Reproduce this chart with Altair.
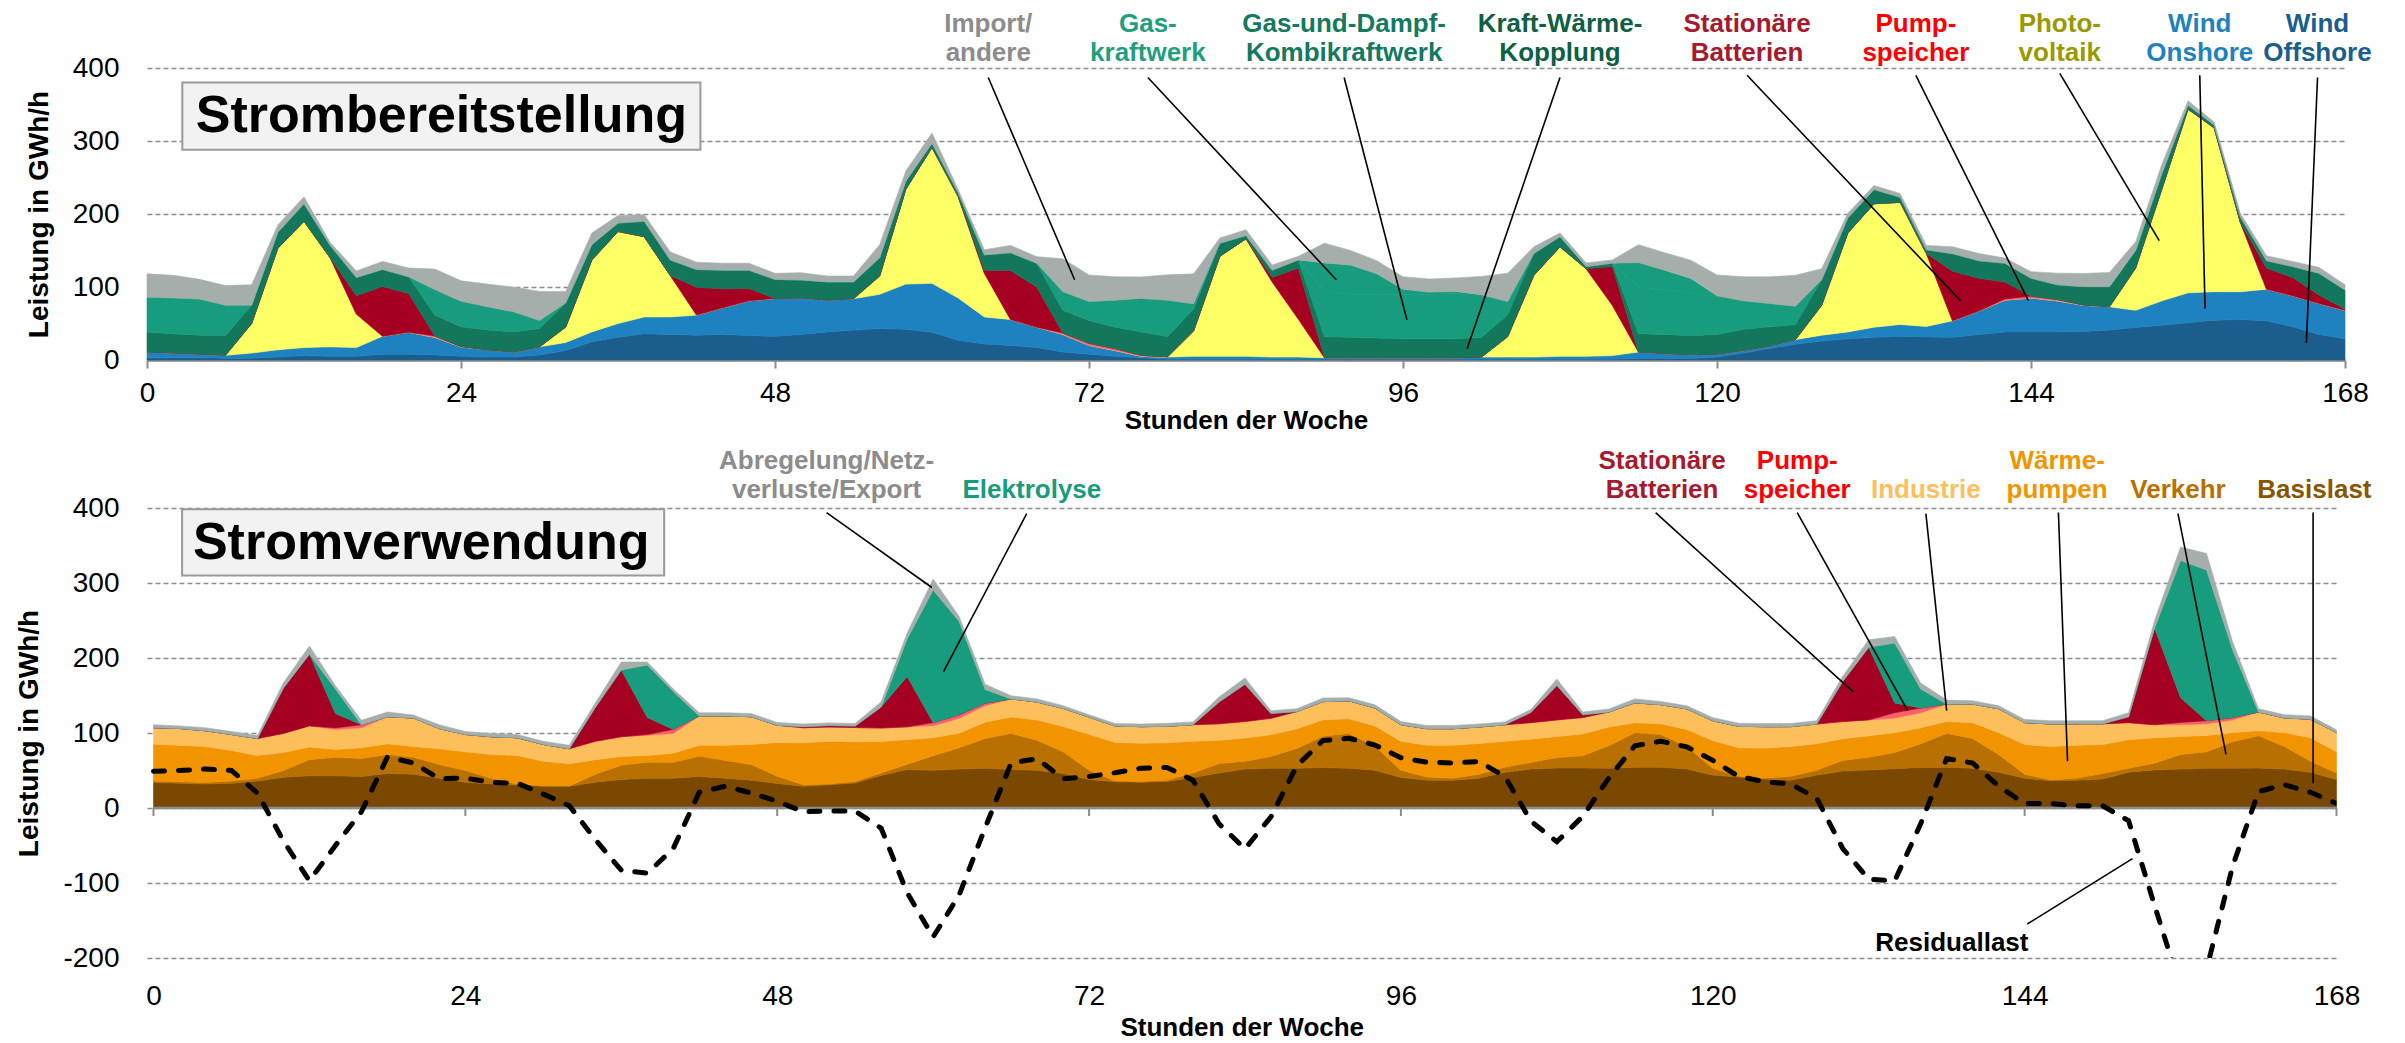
import altair as alt
import pandas as pd

hours = list(range(0, 169, 2))
day_ticks = [0, 24, 48, 72, 96, 120, 144, 168]

# ---------------- Strombereitstellung (GWh/h) ----------------
wind_offshore = [
    3, 3, 3, 2.5, 2.5, 4, 6, 5, 5, 8,
    8, 7, 5, 4, 4, 7, 13, 25, 31, 36,
    35, 34, 35, 33.5, 32.6, 35, 38.5, 41, 43, 42,
    38, 27, 22, 20, 17, 11, 8, 5, 3, 1,
    1, 1, 1, 1, 1, 1, 1, 1, 1, 1,
    1, 1, 1, 1, 1, 1, 1, 2, 2, 2,
    4, 9.6, 15.6, 21.6, 26, 29, 31, 32.6, 31.6, 31,
    35, 38.5, 38.5, 38.5, 39, 41, 44.5, 47.7, 51, 54.6,
    55.5, 53.7, 45.4, 35, 29]
wind_onshore = [
    8, 6.6, 5, 4, 7, 10, 11, 13, 12, 24.6,
    30, 24, 13, 10, 7, 11, 11, 13.5, 19, 23,
    24, 27.5, 36.6, 47.5, 51.8, 50, 43.5, 43, 47, 62,
    67, 58, 37, 35.5, 28, 24, 12, 8, 2, 3,
    4, 4, 4, 3, 3, 2, 2, 2, 2, 2,
    2, 3, 3, 3, 4, 4, 5, 9, 6.7, 5.3,
    4, 3.4, 3.4, 6.4, 8, 9.5, 14, 16, 14.4, 22.7,
    32, 43.5, 46.5, 42.5, 36, 32, 23.5, 33.3, 41, 39,
    38, 43.3, 42.6, 42.5, 39]
photovoltaik = [
    0, 0, 0, 0, 40.5, 139, 173, 122, 46, 0,
    0, 0, 0, 0, 0, 0, 21, 98.5, 126, 110,
    56.6, 0, 0, 0, 0, 0, 0, 0, 25, 130,
    186, 139, 60, 0, 0, 0, 0, 0, 0, 0,
    35, 137, 161, 103, 52, 0, 0, 0, 0, 0,
    0, 0, 28, 112, 150, 120, 69, 0, 0, 0,
    0, 0, 0, 0, 41, 135.5, 169, 167.4, 100, 0,
    0, 0, 0, 0, 0, 0, 58, 153, 251.6, 224.4,
    95, 0, 0, 0, 0]
pumpspeicher_erz = [
    0, 0, 0, 0, 0, 0, 0, 0, 0, 0,
    0, 2, 0.5, 0, 0, 0, 0, 0, 0, 0,
    0, 0, 0, 0, 0, 0, 0, 0, 0, 0,
    0, 0, 0, 0, 0, 2, 3, 2.6, 1.4, 0.5,
    0, 0, 0, 0, 0, 0, 0, 0, 0, 0,
    0, 0, 0, 0, 0, 0, 0, 0, 0, 0,
    0, 0, 0, 0, 0, 0, 0, 0, 0, 0,
    0, 1.5, 2.6, 2, 0.5, 0, 0, 0, 0, 0,
    0, 0, 0, 0, 0]
batterien_erz = [
    0, 0, 0, 0, 0, 0, 0, 0, 25, 68,
    53, 0, 0, 0, 0, 0, 0, 0, 0, 0,
    0, 38, 26, 17, 0, 0, 0, 0, 0, 0,
    0, 0, 4, 67, 55, 0, 0, 0, 0, 0,
    0, 0, 0, 6, 70, 0, 0, 0, 0, 0,
    0, 0, 0, 0, 0, 0, 53, 0, 0, 0,
    0, 0, 0, 0, 0, 0, 0, 0, 0, 68,
    45, 23.5, 0, 0, 0, 0, 0, 0, 0, 0,
    0, 28.7, 25, 11.5, 1.7]
kwk = [
    27.5, 26.4, 26, 27, 25, 22, 24, 17, 25, 23.5,
    23, 28.5, 27, 27, 27.5, 25, 33, 21, 11.6, 21,
    21.4, 24.5, 25.5, 25, 26, 24.6, 25, 23, 25, 11,
    6, 5, 21, 24.5, 32.6, 31, 31, 29.4, 32, 27.6,
    30, 18, 4.4, 10, 11, 29, 28, 27, 26, 26,
    26, 27, 30, 30, 14, 3, 4.6, 25, 26.3, 26,
    27, 29, 26.4, 20.6, 35, 20.5, 19.5, 7, 5, 24,
    24, 25.6, 24.4, 20, 25, 27.5, 24, 21, 5.4, 4,
    7.5, 10.3, 15, 30, 26.3]
gud = [
    47.5, 49, 49.5, 41.5, 0, 0, 0, 0, 0, 0,
    0, 32, 35, 32, 27.5, 11, 0, 0, 0, 0,
    0, 0, 0, 0, 0, 0, 0, 0, 0, 0,
    0, 0, 0, 0, 0, 25.6, 26, 37, 46, 49.6,
    7, 0, 0, 0, 0, 63, 59, 60, 61, 61,
    62, 57, 18, 0, 0, 0, 0, 64.5, 61, 58.5,
    52, 39, 32, 25, 0, 0, 0, 0, 0, 0,
    0, 0, 0, 0, 0, 0, 0, 0, 0, 0,
    0, 0, 0, 0, 0]
gaskraftwerk = [
    0, 0, 0, 0, 0, 0, 0, 0, 0, 0,
    0, 3, 0, 0, 0, 0, 0, 0, 0, 0,
    0, 0, 0, 0, 0, 0, 0, 0, 0, 0,
    0, 0, 0, 0, 0, 0, 0, 0, 0, 0,
    0, 0, 0, 0, 0, 38, 40, 28, 7, 3,
    3, 1.5, 0, 0, 0, 0, 0, 33, 27, 20,
    1, 0, 0, 0, 0, 0, 0, 0, 0, 0,
    0, 0, 0, 0, 0, 0, 0, 0, 0, 0,
    0, 0, 0, 0, 0]
import_andere = [
    32, 31, 27, 27, 28, 10, 9.5, 4, 9, 11,
    12, 28, 28, 31, 34, 40, 16, 16, 10.4, 9,
    11, 10, 9.5, 9.6, 8.3, 10, 8, 8, 18, 14,
    14, 4.5, 7, 10, 9, 45, 36.5, 32, 29.4, 35,
    41, 7, 8, 7, 5, 27, 20, 18, 17, 18,
    18.5, 25, 39, 9, 5, 5, 4.4, 24.5, 24, 25,
    28.5, 33, 36.5, 42.5, 15, 6.5, 5.5, 5, 6, 9.5,
    10, 7, 9, 16, 18, 19.5, 12, 13, 6, 4,
    5, 6.7, 7, 8, 7]

# ---------------- Stromverwendung (GWh/h) ----------------
basislast = [
    34, 33, 32, 33, 36, 41, 43, 43, 42, 46,
    45, 39.7, 34.4, 32, 30.7, 29, 29, 34.4, 38, 39.7,
    39.7, 42, 39.7, 37, 32.8, 29, 31, 33.3, 43.4, 51.3,
    50.3, 51.9, 52.9, 51.3, 50.3, 46, 38, 35, 34.4, 35.4,
    40.7, 46.6, 51.9, 52.9, 52.9, 54, 52.9, 50.3, 40.7, 37,
    37, 39.7, 47.6, 51.9, 53.4, 53.4, 53, 54.5, 54.5, 51.9,
    43.9, 41.3, 38.6, 37, 43.9, 49.2, 50.8, 52.4, 54, 54.5,
    52.9, 47.6, 39.7, 36.5, 37, 38.6, 47.6, 50.8, 51.9, 52.9,
    52.9, 53.4, 51.9, 47.6, 38]
verkehr = [
    2, 2, 2, 3, 3.7, 9, 21.5, 24.7, 24, 25.4,
    22.7, 18.3, 15.6, 7.7, 1, 0.6, 0.5, 10.6, 19, 21.3,
    21.3, 27, 23.8, 21, 9.5, 2, 1, 2, 3.2, 6.9,
    19.5, 28.5, 39.7, 48.2, 40.2, 29, 12.3, 1, 1, 1.6,
    5.9, 12.7, 10.5, 15.9, 26.5, 41.8, 46.6, 32.2, 9.6, 4.3,
    2.7, 5.3, 6.9, 8.9, 13.8, 16.4, 30, 46, 43.4, 30,
    9, 1, 1, 5.3, 6.4, 14.3, 16.9, 21.6, 31.7, 45,
    39.7, 23.8, 5.3, 1, 2.7, 7.4, 5.3, 9, 19.5, 22.1,
    35.5, 42.9, 30.1, 14.8, 8.6]
waermepumpen = [
    49, 48.6, 48, 40.7, 30.3, 24, 17, 10.3, 14.4, 14.3,
    14.3, 21, 25, 31.7, 38.3, 32.8, 29.5, 19.5, 11.8, 9,
    12, 14.6, 20.1, 26.7, 45, 56, 57, 53, 42, 33,
    24, 19.2, 21.9, 22, 26.8, 33.8, 47.9, 51.5, 51, 50,
    42.5, 30.9, 30.9, 28.8, 26.2, 22, 19.4, 26.8, 38.7, 42.5,
    44, 41, 34.5, 31, 28.3, 28.8, 25, 13.3, 14.3, 22.8,
    37, 38, 40.3, 39.7, 35.4, 29, 28.6, 26.5, 21.2, 15.8,
    21.2, 29.1, 39.7, 44.4, 43.9, 38.7, 38.1, 33.9, 23.8, 21.8,
    12.1, 6.9, 18.5, 31.3, 28.4]
industrie = [
    22, 22.4, 21, 21.3, 22.6, 25.5, 28, 26.8, 26.6, 36,
    38, 26.8, 23, 23.6, 23.7, 22.3, 20, 24.5, 26.2, 27,
    26.5, 39.2, 39.2, 37, 23, 20, 19, 19, 18, 17,
    16, 20, 22, 24, 24, 24, 23, 22, 22, 22,
    22, 22, 22, 22, 23, 24, 24, 24, 22, 22,
    22, 22, 22, 22, 22, 22, 20, 26.4, 25.6, 27.5,
    26.4, 28.6, 28.5, 26.5, 26.3, 22.7, 21.2, 19.5, 20.1, 23.3,
    24.8, 31.8, 29.1, 30.2, 28.6, 27.5, 22.8, 17.3, 15.8, 15.4,
    17, 24.8, 19.5, 24.8, 25.5]
pumpspeicher_verw = [
    0, 0, 0, 0, 0, 0, 0, 2, 4, 0,
    0, 0, 0, 0, 0, 0, 0, 0, 0, 1,
    5.3, 0, 0, 0, 0, 0, 0, 0, 0, 0,
    4, 4.7, 3.2, 0, 0, 0, 0, 0, 0, 0,
    0, 0, 0, 0, 0, 0, 0, 0, 0, 0,
    0, 0, 0, 0, 0, 0, 0, 0, 0, 0,
    0, 0, 0, 0, 0, 0, 0, 7, 6.3, 0,
    0, 0, 0, 0, 0, 0, 0, 0, 3, 4.2,
    3.1, 0, 0, 0, 0]
batterien_verw = [
    0, 0, 0, 0, 0, 60.5, 95.5, 19.2, 0, 0,
    0, 0, 0, 0, 0, 0, 0, 45, 89, 22.6,
    0, 0, 0, 0, 0, 1.5, 2, 2, 28, 67,
    0, 0, 0, 0, 0, 0, 0, 0, 0, 0,
    0, 29, 49.7, 6.4, 0, 0, 0, 0, 0, 0,
    0, 0, 0, 13.7, 46, 3.7, 0, 0, 0, 0,
    0, 0, 0, 0, 0, 53.5, 96.8, 13, 0, 0,
    0, 0, 0, 0, 0, 0, 7.9, 129, 33, 0,
    0, 0, 0, 0, 0]
elektrolyse = [
    0, 0, 0, 0, 0, 0, 0, 32.7, 0, 0,
    0, 0, 0, 0, 0, 0, 0, 0, 0, 70,
    50.7, 0, 0, 0, 0, 0, 0, 0, 0, 50,
    177, 124.4, 18.3, 0, 0, 0, 0, 0, 0, 0,
    0, 0, 0, 0, 0, 0, 0, 0, 0, 0,
    0, 0, 0, 0, 0, 0, 0, 0, 0, 0,
    0, 0, 0, 0, 0, 0, 0, 80, 25.4, 0,
    0, 0, 0, 0, 0, 0, 0, 0, 183, 201,
    90.4, 0, 0, 0, 0]
abregelung = [
    4, 3.5, 4, 4, 4.2, 7, 11, 4.3, 6, 6.3,
    4, 5.2, 4, 4.5, 4.3, 4.3, 4.6, 6, 10.7, 4.2,
    3.2, 4.2, 4.2, 4.3, 3.8, 3.5, 3.5, 3.5, 7, 8,
    14.5, 6.8, 7, 4.2, 4.2, 3.7, 3.1, 3.2, 3.5, 4,
    3.7, 6.8, 8.5, 3.6, 3.7, 4.8, 4, 4.3, 4.3, 4.2,
    4.2, 4, 3.8, 3.7, 8.5, 3.7, 4, 5.3, 4.2, 4.2,
    4.2, 4.2, 4.2, 4.2, 4.4, 7, 10, 8.6, 8, 5.3,
    4.3, 4.2, 4.2, 4.2, 4.2, 4.2, 5.3, 10, 18, 22,
    11, 4.3, 4.3, 4.3, 3.7]
residuallast = [
    49, 50, 52, 50, 20, -44, -97, -50, -5, 68,
    60, 39, 40, 34, 33, 18.5, 3, -42, -83, -87,
    -54, 21, 29, 20, 9, -5, -4, -4, -27, -113,
    -172, -116, -26.5, 60, 65.6, 39, 42, 47, 53, 54,
    37, -21, -54.5, -11.6, 56.6, 90, 93, 84, 67, 61,
    60, 62, 42, -17.5, -45, -11, 40, 83, 89, 81.5,
    63.5, 42, 35, 32, 13, -54, -95, -97, -21, 66,
    60, 29, 6, 6, 3, 3, -17, -130, -240, -215,
    -78, 22, 31, 21, 6]

top_names = ["Wind Offshore", "Wind Onshore", "Photovoltaik", "Pumpspeicher", "Stationäre Batterien",
             "Kraft-Wärme-Kopplung", "Gas-und-Dampf-Kombikraftwerk", "Gaskraftwerk", "Import/andere"]
top_series = [wind_offshore, wind_onshore, photovoltaik, pumpspeicher_erz, batterien_erz,
              kwk, gud, gaskraftwerk, import_andere]
top_colors = ["#1b5e8e", "#1f82c0", "#ffff66", "#ff5f6d", "#a50021",
              "#12775b", "#179c7d", "#179c7d", "#a6aeac"]
top_opacity = [1, 1, 1, 1, 1, 1, 1, 0.5, 1]

bot_names = ["Basislast", "Verkehr", "Wärmepumpen", "Industrie", "Pumpspeicher (Verw.)",
             "Stationäre Batterien (Verw.)", "Elektrolyse", "Abregelung/Netzverluste/Export"]
bot_series = [basislast, verkehr, waermepumpen, industrie, pumpspeicher_verw,
              batterien_verw, elektrolyse, abregelung]
bot_colors = ["#7a4800", "#b87000", "#f29400", "#fdbf5c", "#ff5f6d",
              "#a50021", "#179c7d", "#a6aeac"]

top_label_text = ["Import/", "andere", "Gas-", "kraftwerk", "Gas-und-Dampf-", "Kombikraftwerk",
                  "Kraft-Wärme-", "Kopplung", "Stationäre", "Batterien", "Pump-", "speicher",
                  "Photo-", "voltaik", "Wind", "Onshore", "Wind", "Offshore"]
top_label_x = [64.3, 64.3, 76.5, 76.5, 91.5, 91.5, 108, 108, 122.3, 122.3, 135.2, 135.2,
               146.2, 146.2, 156.9, 156.9, 165.9, 165.9]
top_label_y = [460, 420] * 9
top_label_col = ["#8c8c8c"] * 2 + ["#1f9f80"] * 2 + ["#137a5f"] * 2 + ["#0e5f46"] * 2 + \
                ["#a6192e"] * 2 + ["#ff0000"] * 2 + ["#999900"] * 2 + ["#1f82c0"] * 2 + ["#1a5e8e"] * 2
top_lead_x = [64.3, 76.5, 91.5, 108, 122.3, 135.2, 146.2, 156.9, 165.9]
top_lead_y = [387, 387, 387, 387, 390, 390, 392.7, 390, 387]
top_lead_x2 = [70.9, 90.9, 96.3, 100.9, 138.6, 143.8, 153.8, 157.3, 165.05]
top_lead_y2 = [110, 110, 55, 15.5, 81.4, 81.4, 163.6, 70.4, 23.7]

bot_label_text = ["Abregelung/Netz-", "verluste/Export", "Elektrolyse", "Stationäre", "Batterien",
                  "Pump-", "speicher", "Industrie", "Wärme-", "pumpen", "Verkehr", "Basislast",
                  "Residuallast"]
bot_label_x = [51.8, 51.8, 67.6, 116.1, 116.1, 126.5, 126.5, 136.4, 146.5, 146.5, 155.8, 166.3, 138.4]
bot_label_y = [463, 424.5, 424.5, 463, 424.5, 463, 424.5, 424.5, 463, 424.5, 424.5, 424.5, -179.5]
bot_label_col = ["#8c8c8c", "#8c8c8c", "#179c7d", "#a6192e", "#a6192e", "#ff0000", "#ff0000",
                 "#fdbf5c", "#f29400", "#f29400", "#b87000", "#8a5500", "#000000"]
bot_lead_x = [51.8, 67.2, 115.6, 126.5, 136.4, 146.6, 155.8, 166.2, 144.2]
bot_lead_y = [393.9, 392.5, 393.9, 393.9, 392.5, 393.9, 392.5, 393.9, -154.7]
bot_lead_x2 = [59.9, 60.8, 130.8, 135, 138, 147.3, 159.5, 166.2, 152.3]
bot_lead_y2 = [294, 181.9, 154.8, 129.9, 129.9, 62.5, 71.6, 33, -67.5]

FONT = "Liberation Sans"
GRID = "#8c8c8c"
XT_TITLE = "Stunden der Woche"
Y_TITLE = "Leistung in GWh/h"


def long_df(names, series, key):
    rows = []
    for i, (n, vals) in enumerate(zip(names, series)):
        for h, v in zip(hours, vals):
            rows.append({"hour": h, key: n, "value": v, "ord": i})
    return pd.DataFrame(rows)


top_df = long_df(top_names, top_series, "quelle")
bot_df = long_df(bot_names, bot_series, "verwendung")

XS_T = alt.Scale(domain=[0, 168], nice=False, zero=False)
XS_B = alt.Scale(domain=[-0.5, 168], nice=False, zero=False)
YS_T = alt.Scale(domain=[0, 400], nice=False)
YS_B = alt.Scale(domain=[-200, 400], nice=False)


def y_axis(vals):
    return alt.Axis(values=vals, title=Y_TITLE, grid=True, gridColor=GRID,
                    gridDash=[5, 3], gridWidth=1.6, domain=False, ticks=False, tickSize=0,
                    labelFont=FONT, labelFontSize=28, labelColor="#000", labelPadding=28,
                    labelExpr="'' + datum.value",
                    titleFont=FONT, titleFontSize=28, titleFontWeight="bold", titleColor="#000",
                    titlePadding=19)


XA_T = alt.Axis(values=day_ticks, title=XT_TITLE, grid=False, domainColor=GRID,
                domainWidth=2.5, tickColor=GRID, tickWidth=2, tickSize=8, labelFont=FONT,
                labelFontSize=28, labelColor="#000", labelPadding=11, labelFlush=False,
                labelOverlap=False, titleFont=FONT, titleFontSize=26, titleFontWeight="bold",
                titleColor="#000", titlePadding=0)
XA_B = alt.Axis(values=day_ticks, title=XT_TITLE, grid=False, domain=False,
                ticks=False, tickSize=0, labelFont=FONT, labelFontSize=28, labelColor="#000",
                labelPadding=24, labelFlush=False, labelOverlap=False, titleFont=FONT,
                titleFontSize=26, titleFontWeight="bold", titleColor="#000", titlePadding=4)
YA_T = y_axis([0, 100, 200, 300, 400])
YA_B = y_axis([-200, -100, 0, 100, 200, 300, 400])


class Panel:
    def __init__(self, xs, ys, xa, ya):
        self.xs, self.ys, self.xa, self.ya = xs, ys, xa, ya

    def X(self, field):
        return alt.X(field, scale=self.xs, axis=self.xa, title=XT_TITLE)

    def Y(self, field, **kw):
        return alt.Y(field, scale=self.ys, axis=self.ya, title=Y_TITLE, **kw)


PT = Panel(XS_T, YS_T, XA_T, YA_T)
PB = Panel(XS_B, YS_B, XA_B, YA_B)


def areas(p, df, key, names, colors, opac):
    enc = dict(
        x=p.X("hour:Q"),
        y=p.Y("value:Q", stack="zero"),
        color=alt.Color(key + ":N", scale=alt.Scale(domain=names, range=colors), legend=None),
        stroke=alt.Stroke(key + ":N", scale=alt.Scale(domain=names, range=colors), legend=None),
        order=alt.Order("ord:Q"),
    )
    if opac is not None:
        enc["opacity"] = alt.Opacity(key + ":N", scale=alt.Scale(domain=names, range=opac), legend=None)
    return alt.Chart(df).mark_area(interpolate="linear", strokeWidth=0.6).encode(**enc)


def labels(p, texts, xs, ys_, cols):
    df = pd.DataFrame({"x": xs, "y": ys_, "t": texts, "c": cols})
    return alt.Chart(df).mark_text(font=FONT, fontSize=26, fontWeight="bold", align="center",
                                   baseline="middle").encode(
        x=p.X("x:Q"), y=p.Y("y:Q"), text="t:N", color=alt.Color("c:N", scale=None))


def leaders(p, x1, y1, x2, y2):
    df = pd.DataFrame({"x": x1, "y": y1, "x2": x2, "y2": y2})
    return alt.Chart(df).mark_rule(color="black", strokeWidth=1.6).encode(
        x=p.X("x:Q"), y=p.Y("y:Q"), x2="x2:Q", y2="y2:Q")


def title_box(p, text, x1, x2, y1, y2, tx, ty):
    bdf = pd.DataFrame({"x": [x1], "x2": [x2], "y": [y1], "y2": [y2]})
    tdf = pd.DataFrame({"x": [tx], "y": [ty], "t": [text]})
    box = alt.Chart(bdf).mark_rect(fill="#f2f2f2", stroke="#9a9a9a", strokeWidth=2).encode(
        x=p.X("x:Q"), x2="x2:Q", y=p.Y("y:Q"), y2="y2:Q")
    txt = alt.Chart(tdf).mark_text(font=FONT, fontSize=52, fontWeight="bold", color="black",
                                   align="center", baseline="middle").encode(
        x=p.X("x:Q"), y=p.Y("y:Q"), text="t:N")
    return box, txt


# ---- top panel ----
tb, tt = title_box(PT, "Strombereitstellung", 2.7, 42.3, 288, 380, 22.5, 334.4)
top = alt.layer(
    areas(PT, top_df, "quelle", top_names, top_colors, top_opacity),
    tb, tt,
    leaders(PT, top_lead_x, top_lead_y, top_lead_x2, top_lead_y2),
    labels(PT, top_label_text, top_label_x, top_label_y, top_label_col),
).properties(width=2198, height=292)

# ---- bottom panel ----
bb, bt = title_box(PB, "Stromverwendung", 2.2, 39.3, 310, 398.4, 20.6, 353)
zero_df = pd.DataFrame({"x": [0], "x2": [168], "y": [0]})
zero_line = alt.Chart(zero_df).mark_rule(color=GRID, strokeWidth=2.5).encode(
    x=PB.X("x:Q"), x2="x2:Q", y=PB.Y("y:Q"))
tick_df = pd.DataFrame({"x": day_ticks, "y": [0] * len(day_ticks), "y2": [-10.7] * len(day_ticks)})
tick_marks = alt.Chart(tick_df).mark_rule(color=GRID, strokeWidth=2).encode(
    x=PB.X("x:Q"), y=PB.Y("y:Q"), y2="y2:Q")
res_df = pd.DataFrame({"hour": hours, "residual": residuallast})
res_line = alt.Chart(res_df).mark_line(color="black", strokeWidth=5, strokeDash=[11, 14],
                                       strokeCap="round", clip=True).encode(
    x=PB.X("hour:Q"), y=PB.Y("residual:Q"))

bottom = alt.layer(
    areas(PB, bot_df, "verwendung", bot_names, bot_colors, None),
    bb, bt, zero_line, tick_marks,
    leaders(PB, bot_lead_x, bot_lead_y, bot_lead_x2, bot_lead_y2),
    res_line,
    labels(PB, bot_label_text, bot_label_x, bot_label_y, bot_label_col),
).properties(width=2189.5, height=450)

chart = alt.vconcat(top, bottom, spacing=14).resolve_scale(
    x="independent", y="independent", color="independent",
    stroke="independent", opacity="independent"
).properties(
    padding={"left": 7, "top": 3, "right": 5, "bottom": 2}
).configure_view(strokeWidth=0)

chart.save("out.html", embed_options={"renderer": "svg", "actions": False})
